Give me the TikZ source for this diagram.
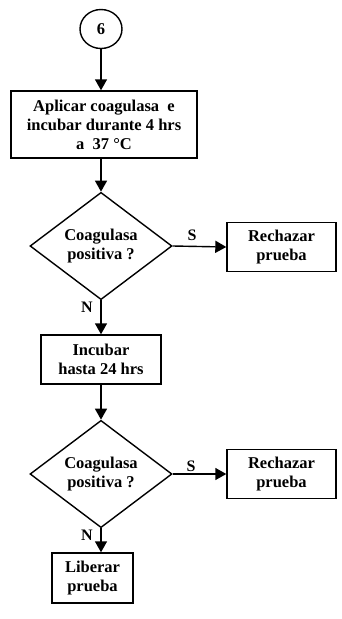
\documentclass[tikz,border=0pt]{standalone}
\usepackage{fontspec}
\setmainfont{Liberation Serif}
\usetikzlibrary{shapes.geometric,arrows.meta}
\begin{document}
\begin{tikzpicture}[x=1pt,y=-1pt,
  every node/.style={font=\fontsize{16.5}{19}\selectfont\bfseries, align=center, inner sep=0pt},
  procbox/.style={draw, line width=1.4pt, rectangle},
  decision/.style={draw, line width=1.4pt, diamond, minimum width=142pt, minimum height=88pt},
  connector/.style={draw, line width=1.4pt, ellipse, minimum width=42pt, minimum height=39pt},
  flow/.style={line width=1.4pt, -{Triangle[length=11pt,width=12pt]}},
  tag/.style={font=\fontsize{16}{19}\selectfont\bfseries}
]
\useasboundingbox (0,0) rectangle (342,619);

% start connector and steps
\node[connector] (c6) at (101,29) {6};
\node[procbox, minimum width=186pt, minimum height=67pt] (apply) at (104,124.5)
  {Aplicar coagulasa\ \ e\\incubar durante 4 hrs\\a\ \ 37 \textdegree C};
\node[decision] (q1) at (101,246) {Coagulasa\\positiva ?};
\node[procbox, minimum width=109pt, minimum height=49pt] (rej1) at (281.5,247) {Rechazar\\prueba};
\node[procbox, minimum width=120pt, minimum height=49pt] (inc) at (101,359.5) {Incubar\\hasta 24 hrs};
\node[decision] (q2) at (101,474) {Coagulasa\\positiva ?};
\node[procbox, minimum width=109pt, minimum height=49pt] (rej2) at (281.5,474) {Rechazar\\prueba};
\node[procbox, minimum width=81pt, minimum height=50pt] (lib) at (92.5,578) {Liberar\\prueba};

% connectors
\draw[flow] (c6.south) -- (c6.south |- apply.north);
\draw[flow] (apply.south -| q1.north) -- (q1.north);
\draw[flow] (q1.east) -- (rej1.west);
\draw[flow] (q1.south) -- (inc.north);
\draw[flow] (inc.south) -- (q2.north);
\draw[flow] (q2.east) -- (rej2.west);
\draw[flow] (q2.south) -- (q2.south |- lib.north);

% branch labels
\node[tag] (s1) at (192,235) {S};
\node[tag] (n1) at (87,307) {N};
\node[tag] (s2) at (191,466) {S};
\node[tag] (n2) at (87,535) {N};
\end{tikzpicture}
\end{document}
